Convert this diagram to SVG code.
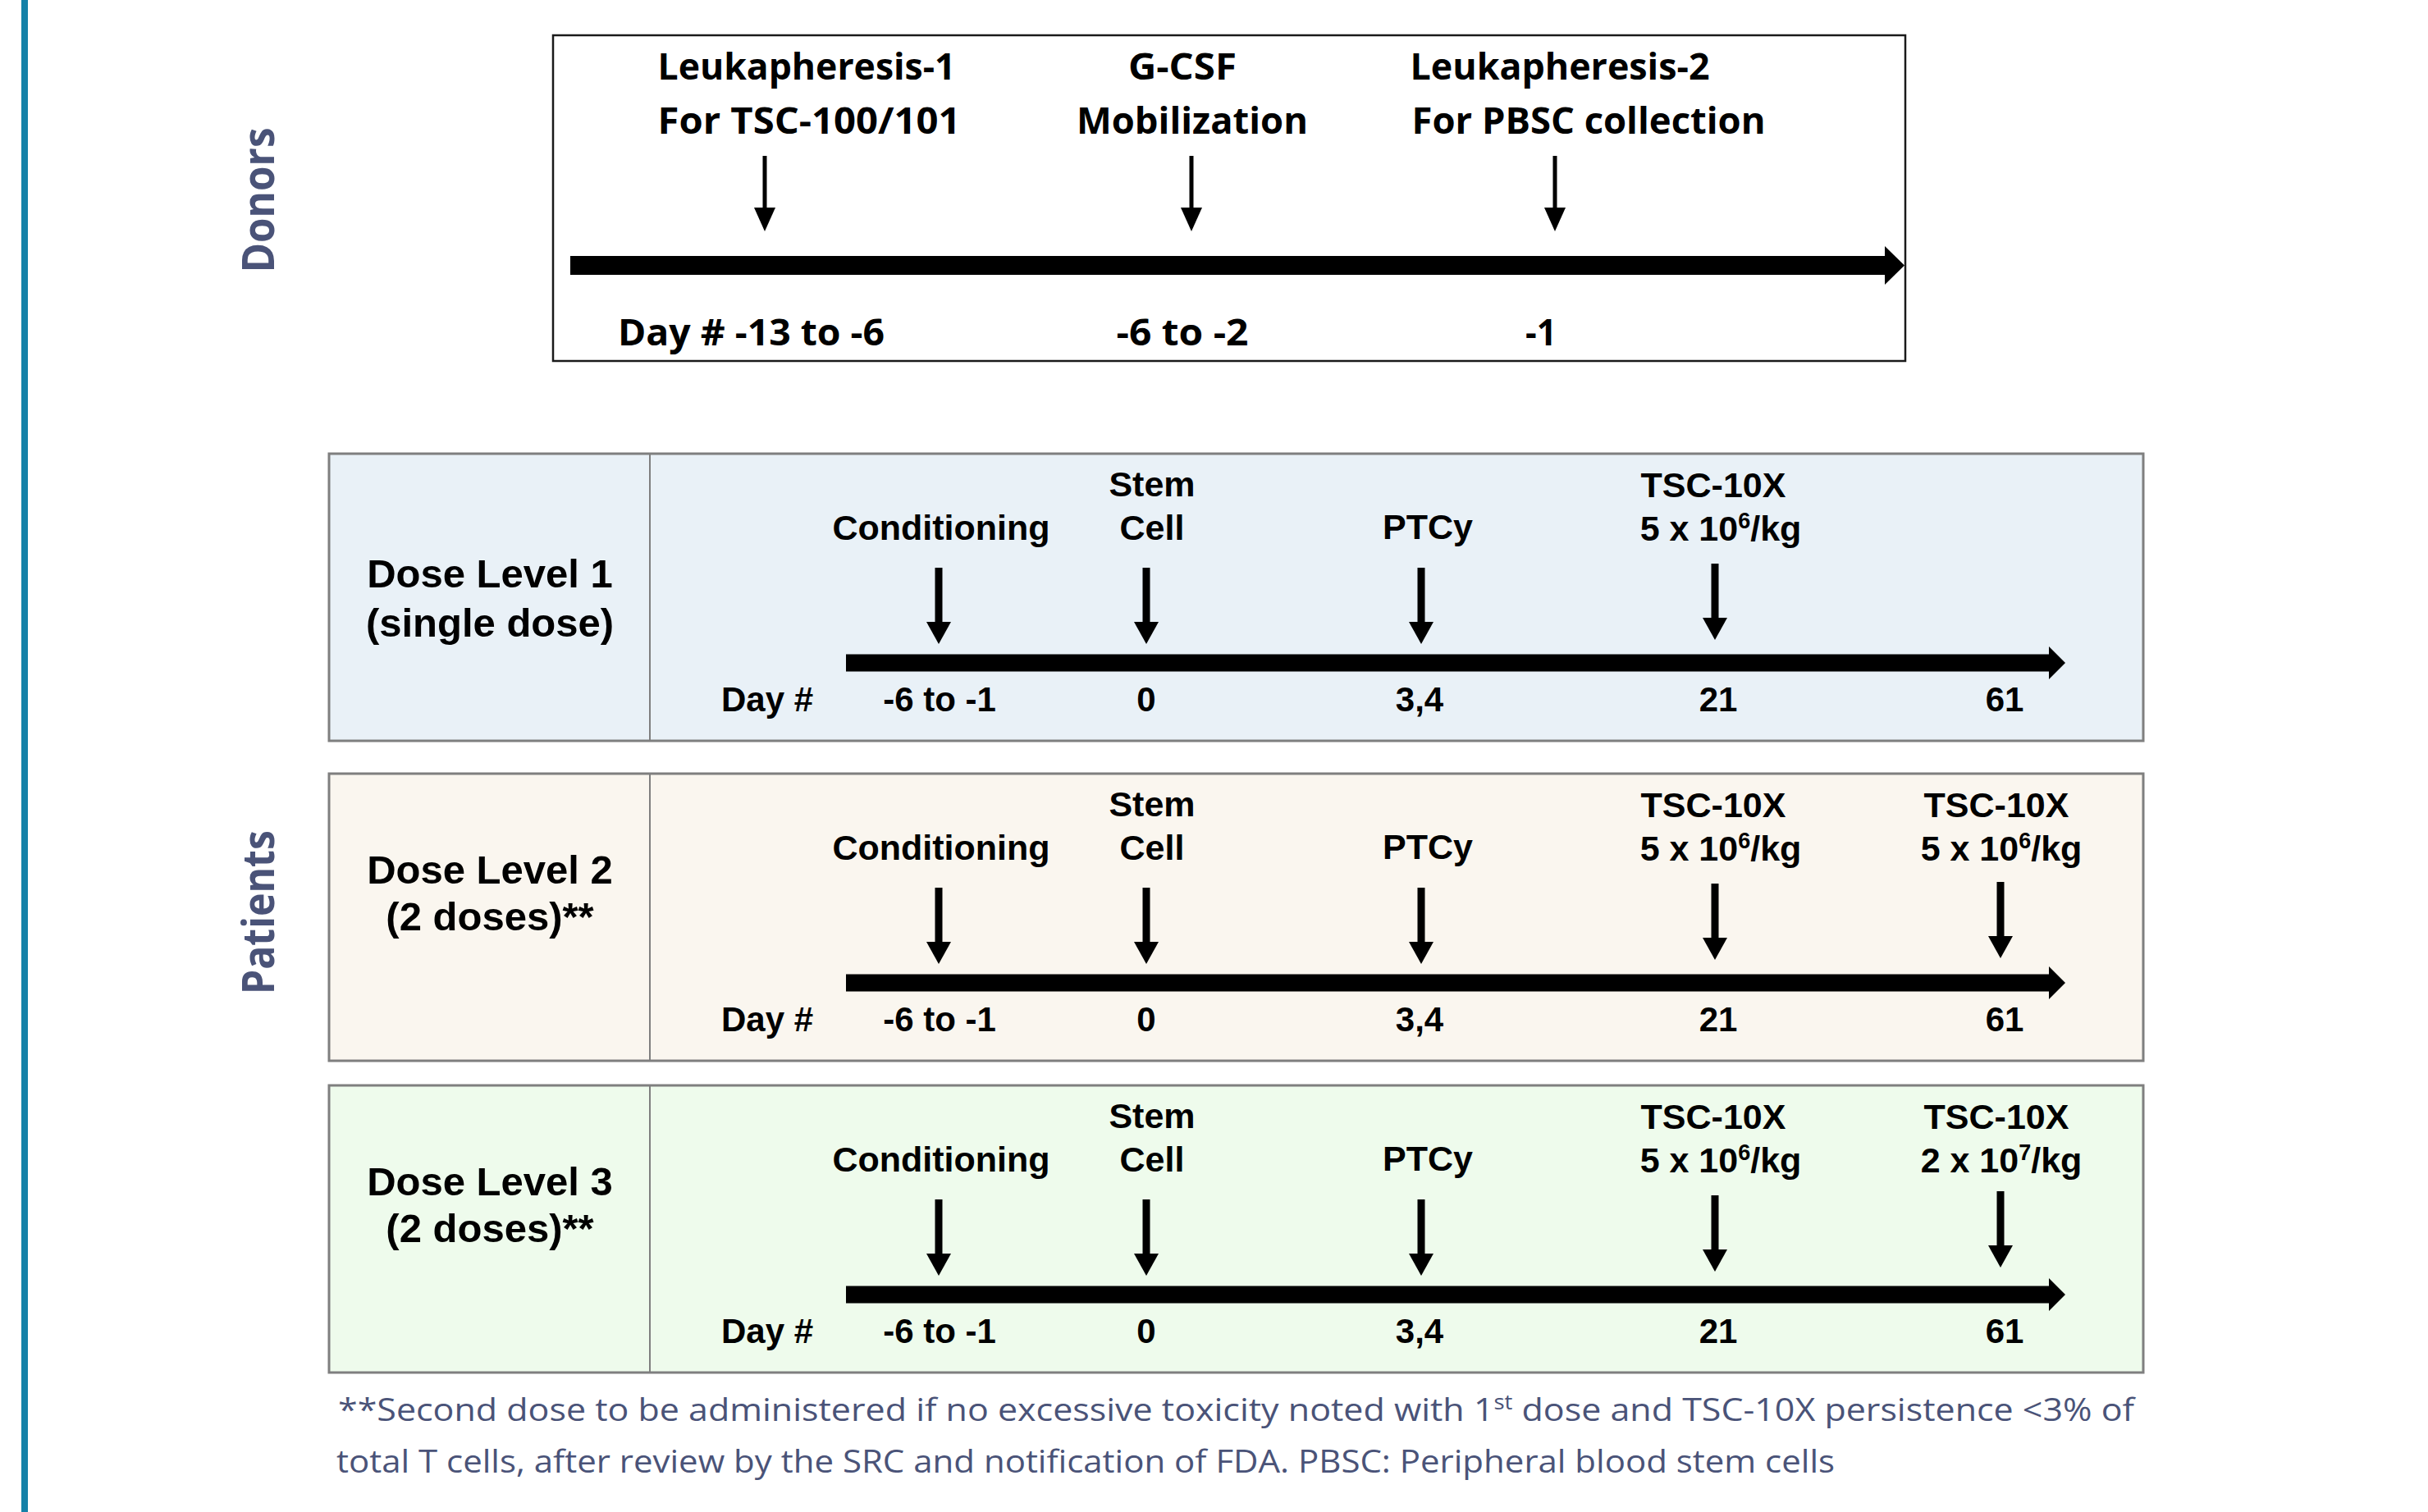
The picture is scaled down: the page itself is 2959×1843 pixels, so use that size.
<svg xmlns="http://www.w3.org/2000/svg" xmlns:xlink="http://www.w3.org/1999/xlink" width="2959" height="1843" viewBox="0 0 2959 1843">
<style>
  .side{font-family:"Open Sans","Noto Sans",sans-serif;font-weight:700;font-size:53px;fill:#4A5378}
  .tl{font-family:"Open Sans","Noto Sans",sans-serif;font-weight:700;font-size:44px;fill:#000}
  .lvl{font-family:"Liberation Sans",Arial,sans-serif;font-weight:700;font-size:49px;fill:#000;text-anchor:middle}
  .ev{font-family:"Liberation Sans",Arial,sans-serif;font-weight:700;font-size:43px;fill:#000;text-anchor:middle}
  .day{font-family:"Liberation Sans",Arial,sans-serif;font-weight:700;font-size:42px;fill:#000;text-anchor:middle}
  .foot{font-family:"Open Sans","Noto Sans",sans-serif;font-size:39px;fill:#4A5378}
  .box{stroke:#7F7F7F;stroke-width:3}
  .div{stroke:#7F7F7F;stroke-width:2}
</style>
<defs>
  <g id="dArrow">
    <rect x="-4.5" y="-93" width="9" height="68"/>
    <polygon points="-15,-27 15,-27 0,0"/>
  </g>
  <g id="tArrow">
    <rect x="-2.5" y="-92" width="5" height="65"/>
    <polygon points="-13,-29 13,-29 0,0"/>
  </g>
  <g id="mainBar">
    <rect x="1031" y="-10.5" width="1468" height="21"/>
    <polygon points="2497,-20 2517,0 2497,20"/>
  </g>
</defs>
<rect width="2959" height="1843" fill="#FFFFFF"/>
<rect id="leftBar" x="26" y="0" width="8" height="1843" fill="#1581A8"/>

<g id="label-donors">
  <text class="side" transform="translate(334,244) rotate(-90)" text-anchor="middle" textLength="177" lengthAdjust="spacingAndGlyphs">Donors</text>
</g>
<g id="label-patients">
  <text class="side" transform="translate(334,1112) rotate(-90)" text-anchor="middle" textLength="200" lengthAdjust="spacingAndGlyphs">Patients</text>
</g>

<g id="donor-box">
  <rect x="674" y="43" width="1648" height="397" fill="#FFFFFF" stroke="#1A1A1A" stroke-width="2.5"/>
  <text class="tl" x="983" y="97" text-anchor="middle" textLength="363" lengthAdjust="spacingAndGlyphs">Leukapheresis-1</text>
  <text class="tl" x="986" y="163" text-anchor="middle" textLength="369" lengthAdjust="spacingAndGlyphs">For TSC-100/101</text>
  <text class="tl" x="1441" y="97" text-anchor="middle" textLength="132" lengthAdjust="spacingAndGlyphs">G-CSF</text>
  <text class="tl" x="1453" y="163" text-anchor="middle" textLength="282" lengthAdjust="spacingAndGlyphs">Mobilization</text>
  <text class="tl" x="1901" y="97" text-anchor="middle" textLength="365" lengthAdjust="spacingAndGlyphs">Leukapheresis-2</text>
  <text class="tl" x="1936" y="163" text-anchor="middle" textLength="431" lengthAdjust="spacingAndGlyphs">For PBSC collection</text>
  <text class="tl" x="753" y="421" textLength="325" lengthAdjust="spacingAndGlyphs">Day # -13 to -6</text>
  <text class="tl" x="1441" y="421" text-anchor="middle" textLength="161" lengthAdjust="spacingAndGlyphs">-6 to -2</text>
  <text class="tl" x="1878" y="421" text-anchor="middle" textLength="38" lengthAdjust="spacingAndGlyphs">-1</text>
</g>

<g id="dose-level-1" transform="translate(0,553)">
  <rect class="box" x="401" y="0" width="2211" height="350" fill="#E9F1F7"/>
  <line class="div" x1="792" y1="0" x2="792" y2="350"/>
  <text class="lvl" x="597" y="163">Dose Level 1</text>
  <text class="lvl" x="597" y="223">(single dose)</text>
  <text class="ev" x="1147" y="105">Conditioning</text>
  <text class="ev" x="1404" y="52">Stem</text>
  <text class="ev" x="1404" y="105">Cell</text>
  <text class="ev" x="1740" y="104">PTCy</text>
  <text class="ev" x="2088" y="53">TSC-10X</text>
  <text class="ev" x="2097" y="106">5 x 10<tspan font-size="27" dy="-15">6</tspan><tspan dy="15">/kg</tspan></text>
  <text class="day" x="935" y="314">Day #</text>
  <text class="day" x="1145" y="314">-6 to -1</text>
  <text class="day" x="1397" y="314">0</text>
  <text class="day" x="1730" y="314">3,4</text>
  <text class="day" x="2094" y="314">21</text>
  <text class="day" x="2443" y="314">61</text>
</g>

<g id="dose-level-2" transform="translate(0,943)">
  <rect class="box" x="401" y="0" width="2211" height="350" fill="#FAF6EF"/>
  <line class="div" x1="792" y1="0" x2="792" y2="350"/>
  <text class="lvl" x="597" y="134">Dose Level 2</text>
  <text class="lvl" x="597" y="191">(2 doses)**</text>
  <text class="ev" x="1147" y="105">Conditioning</text>
  <text class="ev" x="1404" y="52">Stem</text>
  <text class="ev" x="1404" y="105">Cell</text>
  <text class="ev" x="1740" y="104">PTCy</text>
  <text class="ev" x="2088" y="53">TSC-10X</text>
  <text class="ev" x="2097" y="106">5 x 10<tspan font-size="27" dy="-15">6</tspan><tspan dy="15">/kg</tspan></text>
  <text class="ev" x="2433" y="53">TSC-10X</text>
  <text class="ev" x="2439" y="106">5 x 10<tspan font-size="27" dy="-15">6</tspan><tspan dy="15">/kg</tspan></text>
  <text class="day" x="935" y="314">Day #</text>
  <text class="day" x="1145" y="314">-6 to -1</text>
  <text class="day" x="1397" y="314">0</text>
  <text class="day" x="1730" y="314">3,4</text>
  <text class="day" x="2094" y="314">21</text>
  <text class="day" x="2443" y="314">61</text>
</g>

<g id="dose-level-3" transform="translate(0,1323)">
  <rect class="box" x="401" y="0" width="2211" height="350" fill="#EEFBEC"/>
  <line class="div" x1="792" y1="0" x2="792" y2="350"/>
  <text class="lvl" x="597" y="134">Dose Level 3</text>
  <text class="lvl" x="597" y="191">(2 doses)**</text>
  <text class="ev" x="1147" y="105">Conditioning</text>
  <text class="ev" x="1404" y="52">Stem</text>
  <text class="ev" x="1404" y="105">Cell</text>
  <text class="ev" x="1740" y="104">PTCy</text>
  <text class="ev" x="2088" y="53">TSC-10X</text>
  <text class="ev" x="2097" y="106">5 x 10<tspan font-size="27" dy="-15">6</tspan><tspan dy="15">/kg</tspan></text>
  <text class="ev" x="2433" y="53">TSC-10X</text>
  <text class="ev" x="2439" y="106">2 x 10<tspan font-size="27" dy="-15">7</tspan><tspan dy="15">/kg</tspan></text>
  <text class="day" x="935" y="314">Day #</text>
  <text class="day" x="1145" y="314">-6 to -1</text>
  <text class="day" x="1397" y="314">0</text>
  <text class="day" x="1730" y="314">3,4</text>
  <text class="day" x="2094" y="314">21</text>
  <text class="day" x="2443" y="314">61</text>
</g>

<g id="connectors" fill="#000">
  <g id="donor-timeline">
    <rect x="695" y="312" width="1605" height="23"/>
    <polygon points="2297,300 2321,323.5 2297,347"/>
    <use xlink:href="#tArrow" x="932" y="282"/>
    <use xlink:href="#tArrow" x="1452" y="282"/>
    <use xlink:href="#tArrow" x="1895" y="282"/>
  </g>
  <g id="timeline-1" transform="translate(0,553)">
    <use xlink:href="#mainBar" y="255"/>
    <use xlink:href="#dArrow" x="1144" y="232"/>
    <use xlink:href="#dArrow" x="1397" y="232"/>
    <use xlink:href="#dArrow" x="1732" y="232"/>
    <use xlink:href="#dArrow" x="2090" y="227"/>
  </g>
  <g id="timeline-2" transform="translate(0,943)">
    <use xlink:href="#mainBar" y="255"/>
    <use xlink:href="#dArrow" x="1144" y="232"/>
    <use xlink:href="#dArrow" x="1397" y="232"/>
    <use xlink:href="#dArrow" x="1732" y="232"/>
    <use xlink:href="#dArrow" x="2090" y="227"/>
    <use xlink:href="#dArrow" x="2438" y="225"/>
  </g>
  <g id="timeline-3" transform="translate(0,1323)">
    <use xlink:href="#mainBar" y="255"/>
    <use xlink:href="#dArrow" x="1144" y="232"/>
    <use xlink:href="#dArrow" x="1397" y="232"/>
    <use xlink:href="#dArrow" x="1732" y="232"/>
    <use xlink:href="#dArrow" x="2090" y="227"/>
    <use xlink:href="#dArrow" x="2438" y="222"/>
  </g>
</g>

<g id="footnote">
  <text class="foot" x="412" y="1732" textLength="2189" lengthAdjust="spacingAndGlyphs">**Second dose to be administered if no excessive toxicity noted with 1<tspan font-size="25" dy="-14">st</tspan><tspan dy="14"> dose and TSC-10X persistence &lt;3% of</tspan></text>
  <text class="foot" x="410" y="1795" textLength="1826" lengthAdjust="spacingAndGlyphs">total T cells, after review by the SRC and notification of FDA. PBSC: Peripheral blood stem cells</text>
</g>
</svg>
